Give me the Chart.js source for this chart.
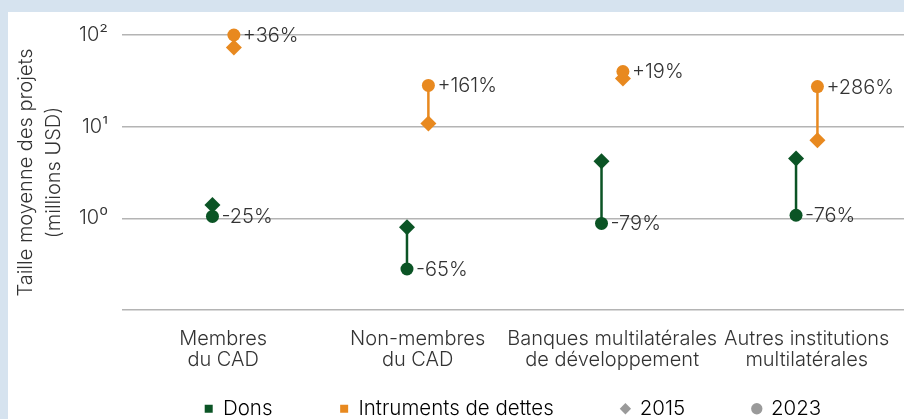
<!DOCTYPE html>
<html>
<head>
<meta charset="utf-8">
<script src="https://cdn.jsdelivr.net/npm/chart.js@4.4.0/dist/chart.umd.min.js"></script>
<style>
html, body { margin: 0; padding: 0; width: 904px; height: 419px; overflow: hidden; background: #d6e3ef; }
#panel { position: absolute; left: 8px; top: 12px; width: 896px; height: 417px; background: #fff; }
</style>
</head>
<body>
<div id="panel"><canvas id="chart" width="896" height="417"></canvas></div>
<script>
const categories = [
	['Membres', 'du CAD'],
	['Non-membres', 'du CAD'],
	['Banques multilatérales', 'de développement'],
	['Autres institutions', 'multilatérales']
];
const dons2015 = [1.4, 0.8, 4.2, 4.5];
const dons2023 = [1.05, 0.28, 0.88, 1.08];
const dettes2015 = [73, 10.8, 33.5, 7.1];
const dettes2023 = [100, 28.2, 40, 27.4];
const donsChange = ['-25%', '-65%', '-79%', '-76%'];
const dettesChange = ['+36%', '+161%', '+19%', '+286%'];
const yTicks = [0.1, 1, 10, 100];
const yTickLabels = ['', '10⁰', '10¹', '10²'];
const legendNames = ['Dons', 'Intruments de dettes', '2015', '2023'];

const green = '#0b5425';
const orange = '#e8891f';
const grey = '#9a9a9a';
const textColor = '#333';
const shift = 0.055;
// trailing blanks widen each legend entry (the legend padding would also push it down)
const legendGaps = ['          ', '          ', '          ', ''];

Chart.defaults.font.family = "Inter, sans-serif";
Chart.defaults.font.size = 20;
Chart.defaults.font.weight = '300';
Chart.defaults.color = textColor;

function points (values, dx) {
	return values.map((v, i) => ({ x: i + dx, y: v }));
}

function segments (from, to, dx) {
	const out = [];
	from.forEach((v, i) => {
		out.push({ x: i + dx, y: v }, { x: i + dx, y: to[i] }, { x: i + dx, y: null });
	});
	return out;
}

function markers (label, values, dx, color, style, radius) {
	return {
		type: 'scatter',
		label: label,
		data: points(values, dx),
		pointStyle: style,
		pointRadius: radius,
		pointHoverRadius: radius,
		backgroundColor: color,
		borderWidth: 0,
		clip: false,
		order: 1
	};
}

function stem (values1, values2, dx, color) {
	return {
		type: 'line',
		data: segments(values1, values2, dx),
		borderColor: color,
		borderWidth: 2.5,
		pointRadius: 0,
		spanGaps: false,
		clip: false,
		order: 2
	};
}

const changeLabels = {
	id: 'changeLabels',
	afterDatasetsDraw (chart) {
		const ctx = chart.ctx;
		ctx.save();
		ctx.font = "300 20px Inter, sans-serif";
		ctx.fillStyle = textColor;
		ctx.textAlign = 'left';
		ctx.textBaseline = 'middle';
		[[0, donsChange], [2, dettesChange]].forEach(([index, texts]) => {
			chart.getDatasetMeta(index).data.forEach((pt, i) => {
				ctx.fillText(texts[i], pt.x + 9, pt.y + 1);
			});
		});
		ctx.restore();
	}
};

const legendStyles = [
	[green, 'rect'],
	[orange, 'rect'],
	[grey, 'rectRot'],
	[grey, 'circle']
];

new Chart(document.getElementById('chart'), {
	data: {
		datasets: [
			markers('Dons 2023', dons2023, -shift, green, 'circle', 6.5),
			markers('Dons 2015', dons2015, -shift, green, 'rectRot', 8),
			markers('Dettes 2023', dettes2023, shift, orange, 'circle', 6.5),
			markers('Dettes 2015', dettes2015, shift, orange, 'rectRot', 8),
			stem(dons2015, dons2023, -shift, green),
			stem(dettes2015, dettes2023, shift, orange)
		]
	},
	options: {
		responsive: false,
		animation: false,
		layout: { autoPadding: false, padding: { top: 23, left: 0, right: 0, bottom: 0 } },
		scales: {
			x: {
				type: 'linear',
				min: -0.52,
				max: 3.5,
				afterBuildTicks: (axis) => { axis.ticks = categories.map((c, i) => ({ value: i })); },
				afterFit: (axis) => {
					axis.height = 78.5;
					axis.paddingLeft = 0;
					axis.paddingRight = 0;
				},
				ticks: {
					autoSkip: false,
					maxRotation: 0,
					padding: 10,
					font: { size: 20, lineHeight: 1.05 },
					callback: (v) => categories[v]
				},
				grid: { display: false },
				border: { display: false }
			},
			y: {
				type: 'logarithmic',
				min: 0.1,
				max: 100,
				afterBuildTicks: (axis) => { axis.ticks = yTicks.map((v) => ({ value: v })); },
				afterFit: (axis) => {
					axis.width = 114;
					axis.paddingTop = 0;
					axis.paddingBottom = 0;
				},
				ticks: {
					padding: 14,
					callback: (v, i) => yTickLabels[i]
				},
				grid: { color: '#b4b4b4', lineWidth: 1.5, drawTicks: false },
				border: { display: false },
				title: {
					display: true,
					text: ['Taille moyenne des projets', '(millions USD)'],
					font: { size: 20, weight: '300', lineHeight: 1.4 },
					padding: { top: 4, bottom: 0 }
				}
			}
		},
		plugins: {
			tooltip: { enabled: false },
			legend: {
				position: 'bottom',
				fullSize: false,
				labels: {
					usePointStyle: true,
					boxWidth: 8,
					boxHeight: 8,
					padding: 10,
					font: { size: 20.5, weight: '300' },
					generateLabels: () => legendNames.map((name, i) => ({
						text: name + legendGaps[i],
						fillStyle: legendStyles[i][0],
						strokeStyle: legendStyles[i][0],
						lineWidth: 0,
						pointStyle: legendStyles[i][1]
					}))
				}
			}
		}
	},
	plugins: [changeLabels]
});
</script>
</body>
</html>
